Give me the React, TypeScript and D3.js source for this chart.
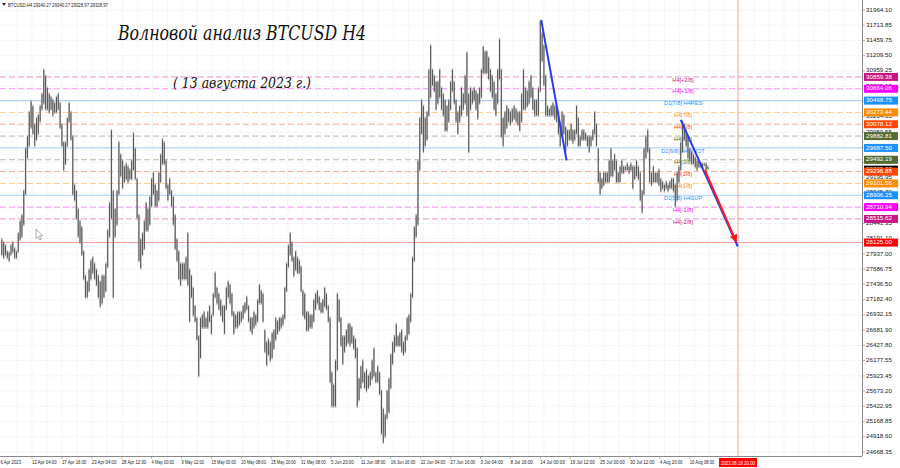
import React from "react";
import * as d3 from "d3";

const W = 900;
const H = 468;
const plotRight = 862;
const plotBottom = 456;

// right axis tick labels
const priceTicks = [31964.10, 31713.85, 31459.75, 31209.50, 30959.25, 30705.15, 30454.90, 30204.65, 29950.55, 29700.30, 29450.05, 29195.95, 28945.70, 28695.45, 28441.35, 28191.10, 27937.00, 27686.75, 27436.50, 27182.40, 26932.15, 26681.90, 26427.80, 26177.55, 25923.45, 25673.20, 25422.95, 25168.85, 24918.60, 24668.35];

// bottom axis labels
const timeLabels = ["6 Apr 2023", "12 Apr 04:00", "17 Apr 16:00", "23 Apr 04:00", "28 Apr 12:00", "4 May 00:00", "9 May 12:00", "15 May 00:00", "20 May 08:00", "25 May 20:00", "31 May 08:00", "5 Jun 20:00", "11 Jun 08:00", "16 Jun 16:00", "22 Jun 04:00", "27 Jun 16:00", "3 Jul 04:00", "8 Jul 16:00", "14 Jul 00:00", "19 Jul 12:00", "25 Jul 00:00", "30 Jul 12:00", "4 Aug 20:00", "10 Aug 08:00"];
const timeLabelDates = ["2023-04-06T08:00Z", "2023-04-12T04:00Z", "2023-04-17T16:00Z", "2023-04-23T04:00Z", "2023-04-28T12:00Z", "2023-05-04T00:00Z", "2023-05-09T12:00Z", "2023-05-15T00:00Z", "2023-05-20T08:00Z", "2023-05-25T20:00Z", "2023-05-31T08:00Z", "2023-06-05T20:00Z", "2023-06-11T08:00Z", "2023-06-16T16:00Z", "2023-06-22T04:00Z", "2023-06-27T16:00Z", "2023-07-03T04:00Z", "2023-07-08T16:00Z", "2023-07-14T00:00Z", "2023-07-19T12:00Z", "2023-07-25T00:00Z", "2023-07-30T12:00Z", "2023-08-04T20:00Z", "2023-08-10T08:00Z"];

// Murrey math levels
const murreyLevels = [30859.38, 30664.06, 30468.75, 30273.44, 30078.12, 29882.81, 29687.50, 29492.19, 29296.88, 29101.56, 28906.25, 28710.94, 28515.62];
const murreyNames = ["H4[+2/8]", "H4[+1/8]", "D1[7/8] H4RES", "H4[7/8]", "H4[6/8]", "H4[5/8]", "D1[6/8] H4PIVOT", "H4[3/8]", "H4[2/8]", "H4[1/8]", "D1[5/8] H4SUP", "H4[-1/8]", "H4[-2/8]"];
const murreyColors = ["#c71585", "#ff00ff", "#1e90ff", "#ff8c00", "#ff4500", "#556b2f", "#1e90ff", "#556b2f", "#ff4500", "#ff8c00", "#1e90ff", "#ff00ff", "#c71585"];
const murreySolid = [false, false, true, false, false, false, true, false, false, false, true, false, false];

const targetPrice = 28125.0;
const targetTime = "2023-08-18T20:00Z";
const targetTimeLabel = "2023.08.18 20:00";
const lastPrice = 29328.97;
const headerText = "BTCUSD,H4  29340.27 29340.27 29328.97 29328.97";

// wave lines [time, price]
const blueLines: [string, number, string, number][] = [
  ["2023-07-14T04:00Z", 31800, "2023-07-18T20:00Z", 29480],
  ["2023-08-08T16:00Z", 30150, "2023-08-19T04:00Z", 28060],
];
const redArrow: [string, number, string, number] = ["2023-08-13T02:00Z", 29323, "2023-08-18T20:00Z", 28150];

// price bars: [high, low] every 8 hours, starting 6 Apr 2023 12:00
const barsStart = "2023-04-06T12:00Z";
const ranges8h: number[][] = [
  [28200, 27900], [28150, 27850],
  [28100, 27900], [28000, 27850], [27980, 27800],
  [28100, 27900], [28150, 27950], [28050, 27850],
  [28000, 27850], [28300, 27950], [28500, 28150],
  [28600, 28200], [29000, 28400], [29700, 28900],
  [29900, 29500], [30300, 29700], [30480, 30000],
  [30400, 29900], [30100, 29700], [30200, 29800],
  [30250, 29900], [30400, 30100], [30600, 30300],
  [31000, 30400], [30900, 30300], [30700, 30300],
  [30600, 30250], [30550, 30300], [30500, 30200],
  [30450, 30250], [30550, 30250], [30600, 30300],
  [30450, 30000], [30100, 29700], [29800, 29300],
  [29800, 29400], [30200, 29700], [30450, 30100],
  [30300, 29800], [29900, 28900], [29100, 28800],
  [29000, 28500], [28700, 28200], [28500, 28100],
  [28400, 27900], [28000, 27500], [27600, 27200],
  [27500, 27200], [27700, 27300], [27850, 27500],
  [27900, 27600], [27800, 27500], [27700, 27400],
  [27600, 27200], [27500, 27050], [27600, 27100],
  [27600, 27200], [27800, 27300], [28350, 27700],
  [28800, 28200], [30000, 28500], [29000, 27200],
  [28700, 28200], [29000, 28400], [29800, 28900],
  [29600, 29200], [29500, 29000], [29400, 29100],
  [29450, 29150], [29400, 29100], [29350, 29150],
  [29500, 29150], [29950, 29300], [29700, 29150],
  [29200, 28500], [28600, 27800], [28200, 27680],
  [28300, 27900], [28500, 28000], [28800, 28300],
  [28700, 28300], [28900, 28400], [29200, 28700],
  [29300, 28900], [29100, 28700], [29000, 28700],
  [29300, 28800], [29600, 29100], [29850, 29400],
  [29800, 29400], [29500, 29000], [29100, 28800],
  [29200, 28900], [29000, 28700], [28900, 28400],
  [28600, 28000], [28200, 27800], [28000, 27500],
  [27800, 27400], [27800, 27500], [27800, 27500],
  [27900, 27500], [28300, 27400], [27700, 26800],
  [27600, 27200], [27400, 26900], [27100, 26800],
  [26900, 26500], [26600, 25900], [26900, 26200],
  [26950, 26700], [27000, 26700], [26900, 26700],
  [27000, 26700], [27100, 26800], [26950, 26600],
  [27300, 26900], [27650, 27200], [27400, 27100],
  [27300, 27000], [27200, 26900], [27100, 26800],
  [27100, 26600], [27400, 27000], [27500, 27200],
  [27450, 27100], [27300, 26900], [27000, 26600],
  [26950, 26700], [27000, 26700], [27000, 26750],
  [27000, 26800], [27100, 26850], [27150, 26950],
  [27250, 27000], [27100, 26800], [26900, 26650],
  [26900, 26600], [27000, 26700], [26950, 26750],
  [27200, 26800], [27450, 27100], [27350, 27100],
  [27300, 26800], [26700, 26300], [26500, 26080],
  [26550, 26250], [26500, 26150], [26650, 26200],
  [26700, 26350], [26900, 26500], [26850, 26600],
  [26900, 26650], [26900, 26700], [26950, 26750],
  [27400, 26850], [27800, 27300], [28100, 27700],
  [28300, 27900], [28150, 27800], [27900, 27550],
  [28000, 27650], [27900, 27600], [27850, 27600],
  [27750, 27300], [27350, 26900], [27300, 26850],
  [27000, 26650], [27000, 26650], [26950, 26700],
  [26950, 26700], [27200, 26800], [27300, 27000],
  [27350, 27100], [27250, 27000], [27150, 26950],
  [27200, 26950], [27400, 27050], [27300, 27000],
  [27100, 26800], [26900, 25800], [26000, 25400],
  [25800, 25400], [26200, 25400], [27300, 26000],
  [27200, 26800], [26900, 26400], [26600, 26100],
  [26600, 26300], [26700, 26400], [26800, 26450],
  [26800, 26400], [26750, 26450], [26600, 26350],
  [26550, 26200], [26400, 25400], [25900, 25500],
  [26100, 25700], [26200, 25800], [26000, 25700],
  [26050, 25650], [25950, 25700], [26000, 25750],
  [26200, 25850], [26400, 25900], [26000, 25800],
  [26100, 25800], [26000, 25600], [25700, 24950],
  [25400, 24800], [25300, 24900], [25700, 25200],
  [25900, 25300], [26300, 25700], [26500, 26100],
  [26600, 26300], [26800, 26400], [26600, 26400],
  [26650, 26400], [26700, 26300], [26500, 26250],
  [26600, 26300], [26900, 26500], [26950, 26600],
  [27300, 26800], [27900, 27200], [28400, 27800],
  [28600, 28200], [29500, 28400], [30200, 29300],
  [30500, 29900], [30400, 29600], [30200, 29700],
  [30300, 29800], [31000, 30200], [31400, 30500],
  [31000, 30700], [30900, 30600], [30800, 30300],
  [30800, 30400], [31000, 30500], [30700, 30300],
  [30600, 30200], [30500, 29950], [30400, 29950],
  [30500, 30100], [30800, 30300], [31000, 30600],
  [30800, 30400], [30500, 30100], [30300, 29900],
  [30400, 30100], [30700, 30200], [30600, 30300],
  [30900, 30400], [31280, 30200], [30600, 29600],
  [30700, 30300], [30650, 30400], [30700, 30450],
  [30650, 30300], [30600, 30150], [30700, 30400],
  [31000, 30500], [31380, 30900], [31300, 30900],
  [31300, 30900], [31200, 30800], [31000, 30600],
  [30900, 30500], [30800, 30300], [30600, 30200],
  [31000, 30400], [31500, 30800], [31000, 29850],
  [30200, 29700], [30300, 29900], [30400, 30000],
  [30350, 30100], [30300, 30050], [30350, 30100],
  [30400, 30150], [30350, 30100], [30300, 30050],
  [30300, 29950], [30600, 30100], [31000, 30300],
  [30700, 30300], [30650, 30350], [30800, 30400],
  [30900, 30500], [30700, 30300], [30500, 30200],
  [30500, 30200], [30700, 30200], [31800, 30600],
  [31600, 31100], [31400, 30700], [30900, 30200],
  [30400, 30200], [30350, 30200], [30400, 30200],
  [30450, 30200], [30400, 30150], [30350, 30100],
  [30300, 29900], [30100, 29700], [30300, 29900],
  [30250, 29900], [30050, 29600], [30000, 29700],
  [30000, 29800], [30100, 29800], [30000, 29750],
  [30000, 29800], [30400, 29900], [30200, 29700],
  [29900, 29700], [30000, 29800], [30000, 29800],
  [29950, 29800], [29900, 29700], [29900, 29600],
  [29900, 29700], [30000, 29800], [30300, 29900],
  [30100, 29700], [29700, 29100], [29300, 28900],
  [29200, 29000], [29300, 29050], [29300, 29100],
  [29300, 29100], [29500, 29100], [29700, 29200],
  [29500, 29200], [29600, 29300], [29500, 29100],
  [29300, 29100], [29400, 29100], [29500, 29250],
  [29400, 29250], [29400, 29300], [29450, 29300],
  [29400, 29250], [29450, 29300], [29400, 29000],
  [29400, 29150], [29500, 29200], [29400, 29150],
  [29300, 28800], [29000, 28600], [29700, 28900],
  [29900, 29500], [30000, 29600], [29700, 29100],
  [29300, 29050], [29400, 29100], [29300, 29100],
  [29300, 29100], [29350, 29050], [29200, 28950],
  [29150, 29000], [29100, 28950], [29150, 29000],
  [29100, 28950], [29150, 29000], [29200, 29000],
  [29200, 28950], [29100, 28700], [29300, 28800],
  [29400, 29100], [29800, 29300], [30150, 29600],
  [30100, 29800], [30000, 29700], [29900, 29500],
  [29700, 29450], [29650, 29400], [29600, 29400],
  [29550, 29350], [29500, 29300], [29500, 29350],
  [29450, 29350], [29450, 29350], [29450, 29380],
  [29450, 29300], [29400, 29320],
];

const SANS = "'Liberation Sans', Arial, sans-serif";

export default function App() {
  const knotDates = timeLabelDates.map((s) => new Date(s));
  const knotX = knotDates.map((_, i) => (i === 0 ? 0 : 32 + (i - 1) * 29.9));
  const x = d3.scaleUtc().domain(knotDates).range(knotX);
  const y = d3.scaleLinear().domain([priceTicks[0], priceTicks[priceTicks.length - 1]]).range([10, 452]);

  const t0 = new Date(barsStart).getTime();
  const step = 8 * 3600 * 1000;
  const bars = ranges8h.map((r, i) => ({ t: new Date(t0 + i * step + step / 2), hi: r[0], lo: r[1] }));

  // vertical grid: at label positions and halfway between
  const vgrid: number[] = [];
  const halfStep = 66 * 3600 * 1000;
  for (let t = new Date(timeLabelDates[1]).getTime() - halfStep; ; t += halfStep) {
    const xx = x(new Date(t));
    if (xx > plotRight) break;
    if (xx > 0) vgrid.push(xx);
  }

  const xT = x(new Date(targetTime)) + 2;
  const yT = y(targetPrice);

  return (
    <svg width={W} height={H} style={{ position: "fixed", left: 0, top: 0, background: "#fff" }} fontFamily={SANS}>
      <defs>
        <marker id="arr" viewBox="0 0 10 10" refX="8" refY="5" markerWidth="4" markerHeight="4" orient="auto">
          <path d="M0,0 L10,5 L0,10 z" fill="#ff1a1a" />
        </marker>
        <clipPath id="plot">
          <rect x={0} y={0} width={plotRight} height={plotBottom} />
        </clipPath>
      </defs>
      <rect x={0} y={0} width={W} height={H} fill="#fff" />
      <g clipPath="url(#plot)">
        {/* grid */}
        {priceTicks.map((p, i) => (
          <line key={"hg" + i} x1={0} x2={plotRight} y1={y(p)} y2={y(p)} stroke="#dcdcdc" strokeWidth={0.6} strokeDasharray="1,1.5" />
        ))}
        {vgrid.map((gx, i) => (
          <line key={"vg" + i} x1={gx} x2={gx} y1={0} y2={plotBottom} stroke="#dcdcdc" strokeWidth={0.6} strokeDasharray="1,1.5" />
        ))}
        {/* murrey lines */}
        {murreyLevels.map((p, i) => (
          <line key={"ml" + i} x1={0} x2={plotRight} y1={y(p)} y2={y(p)} stroke={murreyColors[i]}
            strokeOpacity={murreySolid[i] ? 0.4 : 0.45} strokeWidth={1} strokeDasharray={murreySolid[i] ? undefined : "6,3"} />
        ))}
        <line x1={0} x2={plotRight} y1={yT} y2={yT} stroke="#ff3030" strokeOpacity={0.5} strokeWidth={1} />
        <line x1={xT} x2={xT} y1={0} y2={plotBottom} stroke="#ff3030" strokeOpacity={0.45} strokeWidth={1} />
        {/* level names */}
        {murreyLevels.map((p, i) => (
          <text key={"mt" + i} x={683} y={y(p) + 3.2} fontSize={5.6} fill={murreyColors[i]} textAnchor="middle" dominantBaseline="middle">
            {murreyNames[i]}
          </text>
        ))}
        {/* price bars */}
        {bars.map((b, i) => (
          <line key={"b" + i} x1={x(b.t)} x2={x(b.t)} y1={y(b.hi)} y2={y(b.lo)} stroke="#b4b4b4" strokeWidth={1.5} />
        ))}
        {bars.map((b, i) => (
          <line key={"bb" + i} x1={x(b.t)} x2={x(b.t)} y1={y(b.hi) + 1.5} y2={y(b.lo) - 1.5} stroke="#2a2a2a" strokeWidth={0.7} />
        ))}
        {/* wave lines */}
        {blueLines.map((l, i) => (
          <line key={"bl" + i} x1={x(new Date(l[0]))} y1={y(l[1])} x2={x(new Date(l[2]))} y2={y(l[3])} stroke="#2b3cf0" strokeWidth={2} />
        ))}
        <line x1={x(new Date(redArrow[0]))} y1={y(redArrow[1])} x2={x(new Date(redArrow[2]))} y2={y(redArrow[3])}
          stroke="#ff1a1a" strokeWidth={2} markerEnd="url(#arr)" />
        {/* mouse cursor */}
        <path d="M36,229 L36,238.5 L38.3,236.4 L39.9,240 L41.2,239.4 L39.7,235.9 L42.6,235.9 Z" fill="#fff" stroke="#777" strokeWidth={0.6} />
      </g>

      {/* axes frame */}
      <line x1={plotRight + 0.5} x2={plotRight + 0.5} y1={0} y2={plotBottom} stroke="#888" strokeWidth={1} />
      <line x1={0} x2={plotRight} y1={plotBottom + 0.5} y2={plotBottom + 0.5} stroke="#888" strokeWidth={1} />

      {/* price tick labels */}
      {priceTicks.map((p, i) => (
        <g key={"pt" + i}>
          <line x1={plotRight} x2={plotRight + 3} y1={y(p)} y2={y(p)} stroke="#888" strokeWidth={0.6} />
          <text x={866} y={y(p)} fontSize={6} fill="#222" dominantBaseline="middle" textLength={26} lengthAdjust="spacingAndGlyphs">
            {p.toFixed(2)}
          </text>
        </g>
      ))}
      {/* current price label */}
      <rect x={864} y={y(lastPrice) - 4} width={34} height={8} fill="#000" />
      <text x={866} y={y(lastPrice)} fontSize={6} fill="#fff" dominantBaseline="middle" textLength={26} lengthAdjust="spacingAndGlyphs">{lastPrice.toFixed(2)}</text>
      {/* level price labels */}
      {murreyLevels.map((p, i) => (
        <g key={"ll" + i}>
          <rect x={864} y={y(p) - 4} width={34} height={8} fill={murreyColors[i]} />
          <text x={866} y={y(p)} fontSize={6} fill="#fff" dominantBaseline="middle" textLength={26} lengthAdjust="spacingAndGlyphs">{p.toFixed(2)}</text>
        </g>
      ))}
      <rect x={864} y={yT - 4} width={34} height={8} fill="#ff0000" />
      <text x={866} y={yT} fontSize={6} fill="#fff" dominantBaseline="middle" textLength={26} lengthAdjust="spacingAndGlyphs">{targetPrice.toFixed(2)}</text>

      {/* time labels */}
      {timeLabels.map((s, i) => (
        <g key={"tl" + i}>
          {i > 0 && <line x1={knotX[i]} x2={knotX[i]} y1={plotBottom} y2={plotBottom + 3} stroke="#888" strokeWidth={0.6} />}
          <text x={i === 0 ? 0.5 : knotX[i]} y={464} fontSize={5.8} fill="#222" textLength={s.length * 2.05} lengthAdjust="spacingAndGlyphs">{s}</text>
        </g>
      ))}
      <rect x={xT - 19} y={458} width={38} height={9} fill="#ff0000" />
      <text x={xT - 17} y={464.5} fontSize={5.8} fill="#fff" textLength={34} lengthAdjust="spacingAndGlyphs">{targetTimeLabel}</text>

      {/* header */}
      <path d="M2,3 L6,3 L4,6 Z" fill="#333" />
      <text x={8} y={7} fontSize={5.6} fill="#222" textLength={100} lengthAdjust="spacingAndGlyphs">{headerText}</text>

      {/* titles */}
      <text x={118} y={40} fontSize={20} fontStyle="italic" fontFamily="'DejaVu Serif', serif" fill="#111" textLength={248} lengthAdjust="spacingAndGlyphs">
        Волновой анализ BTCUSD H4
      </text>
      <text x={173} y={88} fontSize={15} fontStyle="italic" fontFamily="'DejaVu Serif', serif" fill="#111" textLength={138} lengthAdjust="spacingAndGlyphs">
        ( 13 августа 2023 г.)
      </text>
    </svg>
  );
}
